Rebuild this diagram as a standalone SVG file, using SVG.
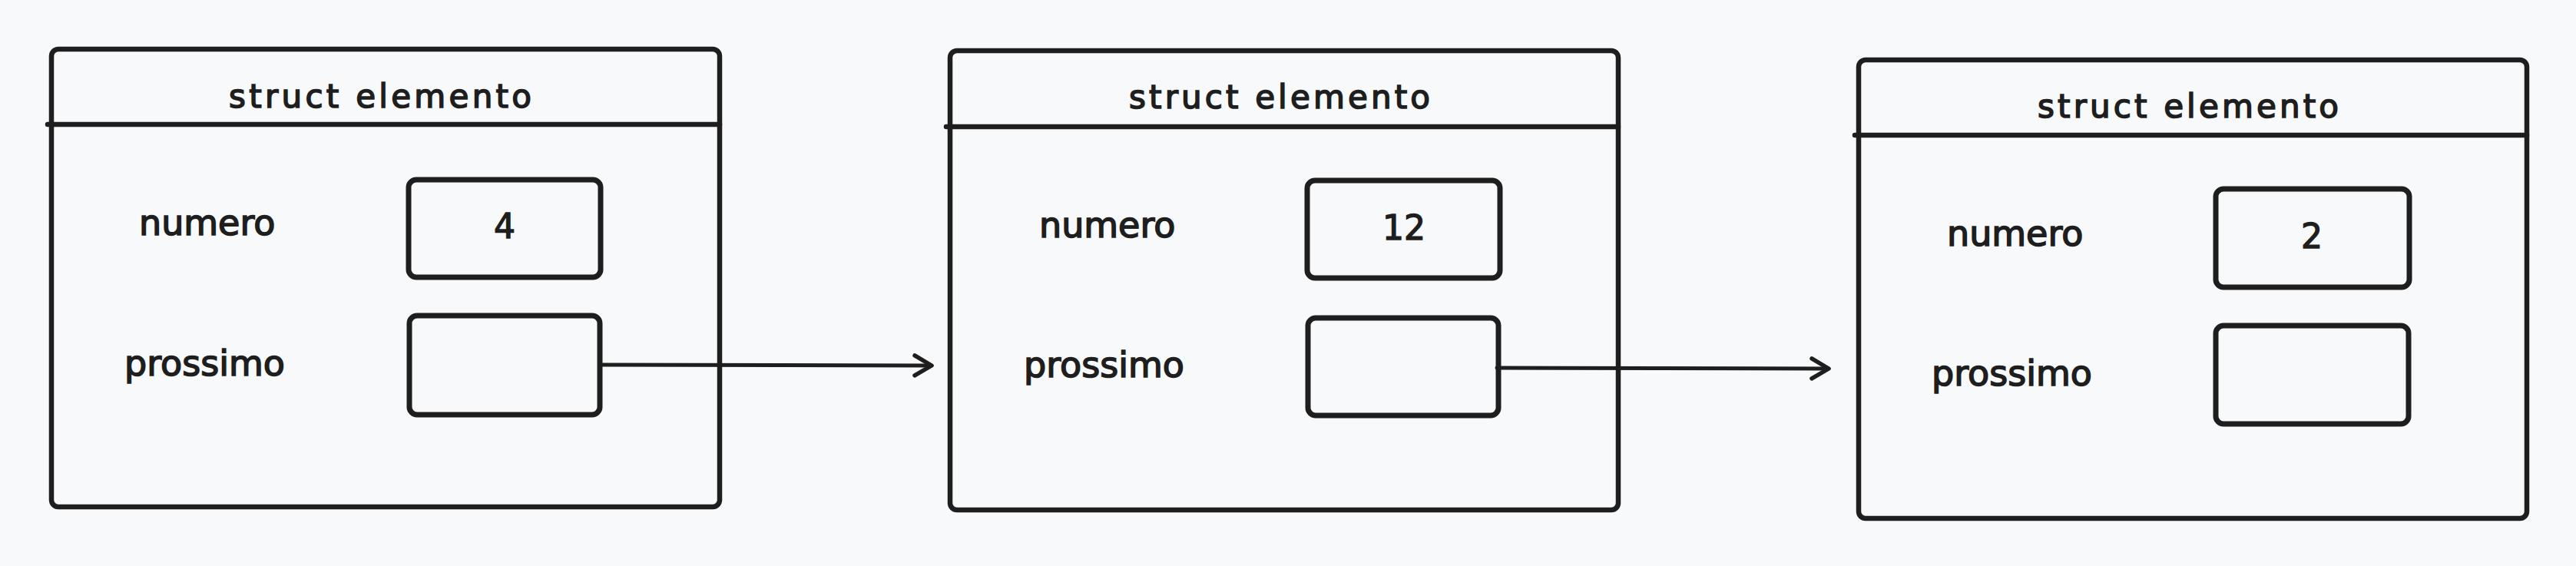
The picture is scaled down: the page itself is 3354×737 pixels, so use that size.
<svg xmlns="http://www.w3.org/2000/svg" width="3354" height="737" viewBox="0 0 3354 737">
  <defs>
    <style>
      .frame { fill: none; stroke: #1e1e1e; stroke-width: 6.5; stroke-linejoin: round; stroke-linecap: round; }
      .cell { fill: none; stroke: #1e1e1e; stroke-width: 7; stroke-linejoin: round; }
      .hdr { stroke: #1e1e1e; stroke-width: 6.5; stroke-linecap: round; fill: none; }
      .title { font-family: "DejaVu Sans", "Liberation Sans", sans-serif; font-size: 42px; fill: #1e1e1e; stroke: #1e1e1e; stroke-width: 1.6; text-anchor: middle; }
      .label { font-family: "DejaVu Sans", "Liberation Sans", sans-serif; font-size: 46px; fill: #1e1e1e; stroke: #1e1e1e; stroke-width: 1.6; }
      .val { font-family: "DejaVu Sans", "Liberation Sans", sans-serif; font-size: 44px; fill: #1e1e1e; stroke: #1e1e1e; stroke-width: 1.4; text-anchor: middle; }
      .conn { fill: none; stroke: #1e1e1e; stroke-width: 5; stroke-linecap: round; }
    </style>
    <marker id="arrow" markerUnits="userSpaceOnUse" markerWidth="40" markerHeight="40" refX="30" refY="20" orient="auto">
      <path d="M8,7 L30,20 L8,33" fill="none" stroke="#1e1e1e" stroke-width="5.5" stroke-linecap="round" stroke-linejoin="round"/>
    </marker>
  </defs>
  <rect width="3354" height="737" fill="#f8f9fa"/>

  <g id="node1">
    <rect class="frame" x="67" y="64" width="870" height="596" rx="9"/>
    <line class="hdr" x1="62" y1="162" x2="937" y2="162"/>
    <text class="title" x="495" y="140" textLength="394" lengthAdjust="spacing">struct elemento</text>
    <text class="label" x="181" y="306">numero</text>
    <rect class="cell" x="532" y="234" width="250" height="127" rx="10"/>
    <text class="val" x="657" y="310">4</text>
    <text class="label" x="162" y="489">prossimo</text>
    <rect class="cell" x="533" y="411" width="248" height="129" rx="10"/>
  </g>

  <g id="node2">
    <rect class="frame" x="1237" y="66" width="870" height="598" rx="9"/>
    <line class="hdr" x1="1232" y1="165" x2="2107" y2="165"/>
    <text class="title" x="1666" y="141" textLength="392" lengthAdjust="spacing">struct elemento</text>
    <text class="label" x="1353" y="309">numero</text>
    <rect class="cell" x="1702" y="235" width="251" height="127" rx="10"/>
    <text class="val" x="1828" y="312">12</text>
    <text class="label" x="1333" y="491">prossimo</text>
    <rect class="cell" x="1703" y="414" width="248" height="127" rx="10"/>
  </g>

  <g id="node3">
    <rect class="frame" x="2420" y="78" width="870" height="597" rx="9"/>
    <line class="hdr" x1="2415" y1="176" x2="3290" y2="176"/>
    <text class="title" x="2849" y="153" textLength="392" lengthAdjust="spacing">struct elemento</text>
    <text class="label" x="2535" y="320">numero</text>
    <rect class="cell" x="2885" y="246" width="252" height="128" rx="10"/>
    <text class="val" x="3010" y="323">2</text>
    <text class="label" x="2515" y="502">prossimo</text>
    <rect class="cell" x="2885" y="424" width="251" height="128" rx="10"/>
  </g>

  <g id="connectors">
    <path class="conn" d="M783,475 L1213,476" marker-end="url(#arrow)"/>
    <path class="conn" d="M1949,479 L2381,480" marker-end="url(#arrow)"/>
  </g>
</svg>
